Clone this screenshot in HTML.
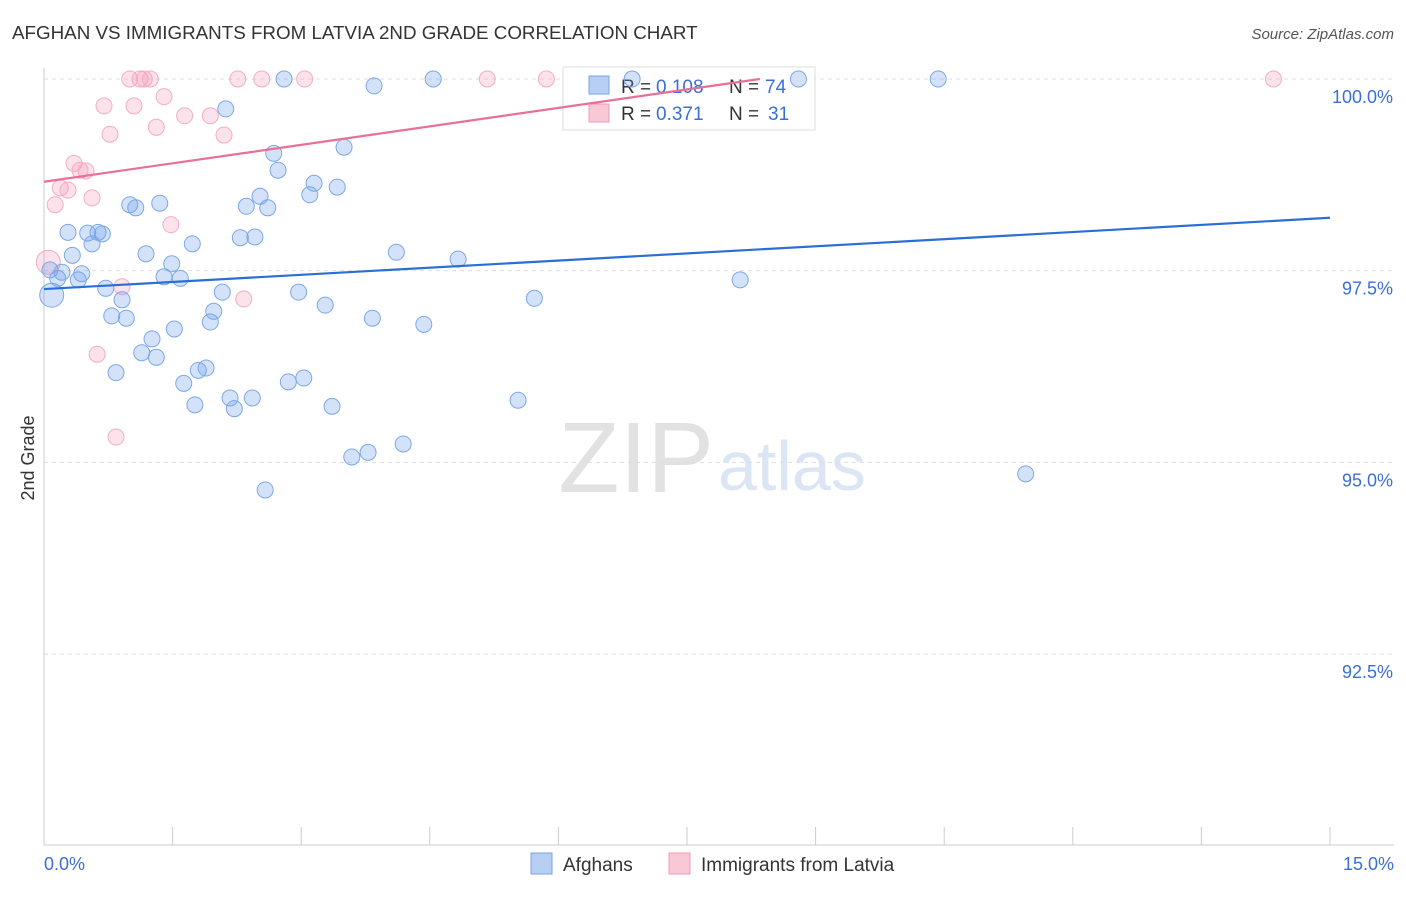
<!DOCTYPE html>
<html><head><meta charset="utf-8"><style>
body{margin:0;background:#fff;font-family:"Liberation Sans",sans-serif}
svg text{font-family:"Liberation Sans",sans-serif}
</style></head><body>
<svg id="chart" width="1406" height="892" xmlns="http://www.w3.org/2000/svg">
<text x="12" y="39" font-size="18.8" fill="#333">AFGHAN VS IMMIGRANTS FROM LATVIA 2ND GRADE CORRELATION CHART</text>
<text x="1394" y="39" font-size="15" fill="#555" font-style="italic" text-anchor="end">Source: ZipAtlas.com</text>
<text x="714" y="492" font-size="100" fill="#e2e2e2" text-anchor="end" font-family="Liberation Serif,serif">ZIP</text>
<text x="718" y="490" font-size="70" fill="#dbe5f4">atlas</text>
<g id="grid"></g><g id="axes"></g>
<g>
<rect x="563" y="67" width="252" height="63" fill="#fff" stroke="#ddd"/>
<rect x="589" y="76" width="20" height="18" fill="#b7cff3" stroke="#7aa3e3"/>
<text x="621" y="93" font-size="19" fill="#333">R =</text>
<text x="656" y="93" font-size="19" fill="#3b6fd6">0.108</text>
<text x="729" y="93" font-size="19" fill="#333">N =</text>
<text x="765" y="93" font-size="19" fill="#3b6fd6">74</text>
<rect x="589" y="104" width="20" height="18" fill="#f9c8d6" stroke="#f09ab5"/>
<text x="621" y="120" font-size="19" fill="#333">R =</text>
<text x="656" y="120" font-size="19" fill="#3b6fd6">0.371</text>
<text x="729" y="120" font-size="19" fill="#333">N =</text>
<text x="768" y="120" font-size="19" fill="#3b6fd6">31</text>
</g>
<g id="pts"></g><g id="trend"></g>
<text transform="translate(34,458) rotate(-90)" font-size="18" fill="#333" text-anchor="middle">2nd Grade</text>
<g>
<rect x="531" y="853" width="21" height="21" fill="#b7cff3" stroke="#7aa3e3"/>
<text x="563" y="871" font-size="19" fill="#333">Afghans</text>
<rect x="669" y="853" width="21" height="21" fill="#f9c8d6" stroke="#f09ab5"/>
<text x="701" y="871" font-size="19" fill="#333">Immigrants from Latvia</text>
</g>
</svg>
<script>
const blueX=[0.07,0.09,0.16,0.21,0.28,0.33,0.40,0.44,0.51,0.56,0.63,0.68,0.72,0.79,0.84,0.91,0.96,1.00,1.07,1.14,1.19,1.26,1.31,1.35,1.40,1.49,1.52,1.59,1.63,1.73,1.76,1.80,1.89,1.94,1.98,2.08,2.12,2.17,2.22,2.29,2.36,2.43,2.46,2.52,2.58,2.61,2.68,2.73,2.80,2.85,2.97,3.03,3.10,3.15,3.28,3.36,3.42,3.50,3.59,3.78,3.83,3.85,4.11,4.19,4.43,4.54,4.83,5.53,5.72,6.86,8.12,8.80,10.43,11.45];
const blueY=[97.51,97.18,97.40,97.48,98.00,97.70,97.38,97.46,97.99,97.85,98.00,97.98,97.27,96.91,96.17,97.12,96.88,98.36,98.32,96.43,97.72,96.61,96.37,98.38,97.42,97.59,96.74,97.40,96.03,97.85,95.75,96.20,96.23,96.83,96.97,97.22,99.61,95.84,95.70,97.93,98.34,95.84,97.94,98.47,94.64,98.32,99.03,98.81,100,96.05,97.22,96.10,98.49,98.64,97.05,95.73,98.59,99.11,95.07,95.13,96.88,99.91,97.74,95.24,96.80,100,97.65,95.81,97.14,100,97.38,100,100,94.85];
const pinkX=[0.05,0.13,0.19,0.28,0.35,0.42,0.49,0.56,0.62,0.70,0.77,0.84,0.91,1.00,1.05,1.12,1.17,1.24,1.31,1.40,1.48,1.64,1.94,2.10,2.26,2.33,2.54,3.04,5.17,5.86,14.34];
const pinkY=[97.61,98.36,98.58,98.55,98.90,98.81,98.80,98.45,96.41,99.65,99.28,95.33,97.29,100,99.65,100,100,100,99.37,99.77,98.10,99.52,99.52,99.27,100,97.13,100,100,100,100,100];
const blueTrend=[[0,97.26],[15,98.19]];
const pinkTrend=[[0,98.66],[8.35,100]];
const yTicks=[100,97.5,95,92.5];
const yTickLabels=["100.0%","97.5%","95.0%","92.5%"];
const xTicks=[0,1.5,3,4.5,6,7.5,9,10.5,12,13.5,15];
const NS="http://www.w3.org/2000/svg";
const sx=v=>44+v*(1286/15);
const sy=v=>79+(100-v)*76.67;
function mk(tag,attrs,parent){const e=document.createElementNS(NS,tag);for(const k in attrs)e.setAttribute(k,attrs[k]);document.getElementById(parent).appendChild(e);return e;}
yTicks.forEach((t,i)=>{
 const l=mk('line',{x1:44,x2:1394,y1:sy(t),y2:sy(t),stroke:'#ddd','stroke-dasharray':'4,4'},'grid');
 
 
 const tx=mk('text',{x:1393,y:sy(t)+24,'font-size':18,fill:'#3b6fd6','text-anchor':'end'},'grid');
 tx.textContent=yTickLabels[i];
 
 
});
const ax=mk('line',{x1:44,x2:44,y1:68,y2:845,stroke:'#ccc'},'axes');


const bx=mk('line',{x1:44,x2:1394,y1:845,y2:845,stroke:'#ccc'},'axes');


xTicks.forEach(t=>{
 const l=mk('line',{x1:sx(t),x2:sx(t),y1:827,y2:845,stroke:'#ccc'},'axes');
 
 
});
const xl0=mk('text',{x:44,y:870,'font-size':18,fill:'#3b6fd6'},'axes');xl0.textContent='0.0%';


const xl1=mk('text',{x:1394,y:870,'font-size':18,fill:'#3b6fd6','text-anchor':'end'},'axes');xl1.textContent='15.0%';


function pts(X,Y,fill,stroke,name,big){
 X.forEach((x,i)=>{
  const c=mk('circle',{cx:sx(x),cy:sy(Y[i]),r:(i===big?12:8),fill:fill,stroke:stroke,'stroke-width':1},'pts');
  
  
 });
}
pts(pinkX,pinkY,'rgba(244,160,190,0.3)','#f3adc4','point-latvia',0);
pts(blueX,blueY,'rgba(110,160,235,0.3)','#7ca8e6','point-afghans',1);
function tl(T,col,name){
 const l=mk('line',{x1:sx(T[0][0]),y1:sy(T[0][1]),x2:sx(T[1][0]),y2:sy(T[1][1]),stroke:col,'stroke-width':2.2},'trend');
 
 
}
tl(blueTrend,'#2a6fd4','trend-line-afghans');
tl(pinkTrend,'#ea6f97','trend-line-latvia');
</script>
</body></html>
